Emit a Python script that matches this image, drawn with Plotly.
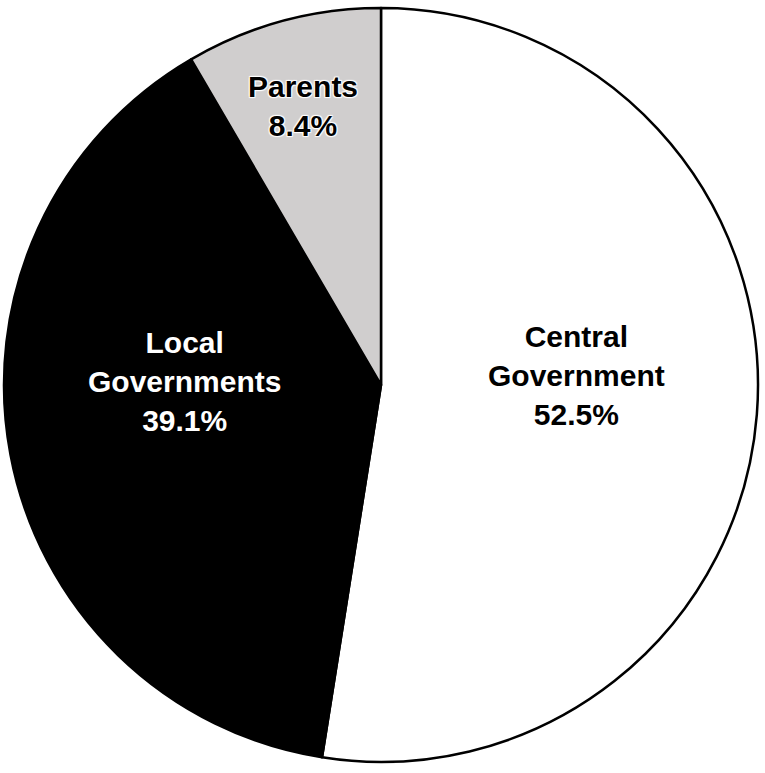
import plotly.graph_objects as go

labels = ["Central<br>Government", "Local<br>Governments", "Parents"]
values = [52.5, 39.1, 8.4]
colors = ["#ffffff", "#000000", "#d0cece"]
text_colors = ["#000000", "#ffffff", "#000000"]
# label centres in pixels (x, y from top)
label_px = [(576, 375), (184, 382), (303, 106)]

W, H = 765, 773
halo = "1px 1px 1px #fff, -1px -1px 1px #fff, 1px -1px 1px #fff, -1px 1px 1px #fff"
shadows = ["none", "none", halo]

fig = go.Figure(go.Pie(
    labels=labels,
    values=values,
    sort=False,
    direction="clockwise",
    rotation=0,
    marker=dict(colors=colors, line=dict(color="#000000", width=2.5)),
    textinfo="none",
    hoverinfo="skip",
    showlegend=False,
    domain=dict(x=[4 / W, 758 / W], y=[1 - 762 / H, 1 - 8 / H]),
))

for lab, val, col, sh, (px, py) in zip(labels, values, text_colors, shadows, label_px):
    fig.add_annotation(
        x=px / W, y=1 - py / H, xref="paper", yref="paper",
        xanchor="center", yanchor="middle",
        text=f"{lab}<br>{val:.1f}%", showarrow=False, align="center",
        font=dict(family="Liberation Sans, Arial, sans-serif", size=30,
                  color=col, weight="bold", shadow=sh),
    )

fig.update_layout(
    width=W, height=H,
    margin=dict(l=0, r=0, t=0, b=0),
    paper_bgcolor="#ffffff",
    plot_bgcolor="#ffffff",
    showlegend=False,
)

fig.write_html("out.html", config={"displayModeBar": False},
               post_script="document.body.style.margin='0';")
